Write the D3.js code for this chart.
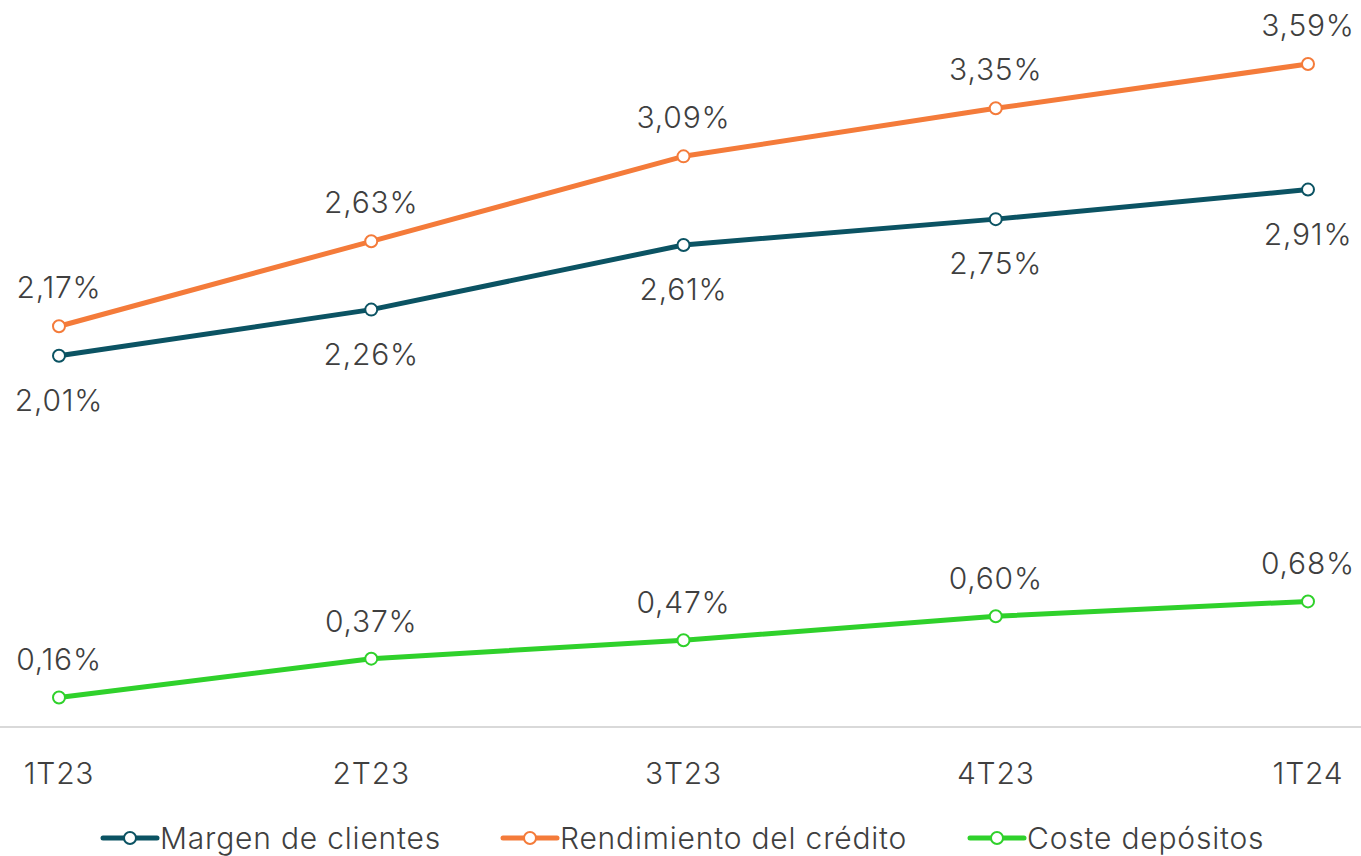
<!DOCTYPE html>
<html>
<head>
<meta charset="utf-8">
<script src="https://d3js.org/d3.v7.min.js"></script>
<style>
  body { margin: 0; background: #fff; }
  svg text { font-family: Inter, "Noto Sans", sans-serif; font-weight: 300; fill: #3f3f3f; letter-spacing: 0.8px; }
</style>
</head>
<body>
<div id="chart"></div>
<script>
var categories = ["1T23", "2T23", "3T23", "4T23", "1T24"];
var margen = [2.01, 2.26, 2.61, 2.75, 2.91];
var rendimiento = [2.17, 2.63, 3.09, 3.35, 3.59];
var coste = [0.16, 0.37, 0.47, 0.60, 0.68];

var seriesNames = ["Margen de clientes", "Rendimiento del crédito", "Coste depósitos"];
var seriesColors = ["#0b5363", "#f47b3a", "#2fd12b"];

var width = 1361, height = 856;
var baseY = 727;

var svg = d3.select("#chart").append("svg")
    .attr("width", width)
    .attr("height", height);

var x = d3.scalePoint()
    .domain(categories)
    .range([59, 1308]);

var y = d3.scaleLinear()
    .domain([0, 3.59])
    .range([baseY, 64]);

// baseline
svg.append("line")
    .attr("x1", 0).attr("x2", width)
    .attr("y1", y(0)).attr("y2", y(0))
    .attr("stroke", "#d9d9d9")
    .attr("stroke-width", 2);

// x axis labels
svg.append("g").selectAll("text")
    .data(categories)
    .enter().append("text")
    .attr("x", function(d) { return x(d); })
    .attr("y", 784)
    .attr("text-anchor", "middle")
    .attr("font-size", 30)
    .text(function(d) { return d; });

var series = [
  { name: seriesNames[0], values: margen, color: seriesColors[0], dy: 55 },
  { name: seriesNames[1], values: rendimiento, color: seriesColors[1], dy: -28 },
  { name: seriesNames[2], values: coste, color: seriesColors[2], dy: -27 }
];

var line = d3.line()
    .x(function(d, i) { return x(categories[i]); })
    .y(function(d) { return y(d); });

var fmt = function(v) { return v.toFixed(2).replace(".", ",") + "%"; };

series.forEach(function(s) {
  var g = svg.append("g");
  g.append("path")
      .datum(s.values)
      .attr("fill", "none")
      .attr("stroke", s.color)
      .attr("stroke-width", 5)
      .attr("stroke-linejoin", "round")
      .attr("d", line);

  g.selectAll("circle")
      .data(s.values)
      .enter().append("circle")
      .attr("cx", function(d, i) { return x(categories[i]); })
      .attr("cy", function(d) { return y(d); })
      .attr("r", 6)
      .attr("fill", "#fff")
      .attr("stroke", s.color)
      .attr("stroke-width", 2);

  g.selectAll("text")
      .data(s.values)
      .enter().append("text")
      .attr("x", function(d, i) { return x(categories[i]); })
      .attr("y", function(d) { return y(d) + s.dy; })
      .attr("text-anchor", "middle")
      .attr("font-size", 30)
      .text(fmt);
});

// legend
var legendX = [103, 503, 970];
var legend = svg.append("g").selectAll("g")
    .data(series)
    .enter().append("g")
    .attr("transform", function(d, i) { return "translate(" + legendX[i] + ",838)"; });

legend.append("line")
    .attr("x1", 0).attr("x2", 54)
    .attr("stroke", function(d) { return d.color; })
    .attr("stroke-width", 5)
    .attr("stroke-linecap", "round");

legend.append("circle")
    .attr("cx", 27)
    .attr("r", 6)
    .attr("fill", "#fff")
    .attr("stroke", function(d) { return d.color; })
    .attr("stroke-width", 2);

legend.append("text")
    .attr("x", 57)
    .attr("y", 11)
    .attr("font-size", 30)
    .text(function(d) { return d.name; });
</script>
</body>
</html>
